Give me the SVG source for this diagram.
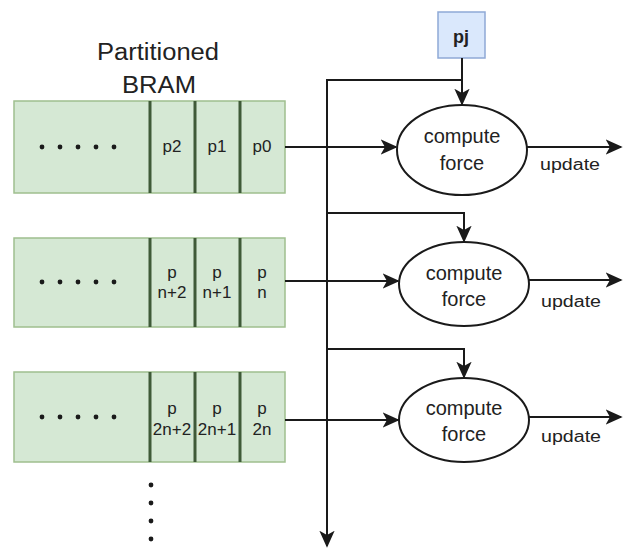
<svg xmlns="http://www.w3.org/2000/svg" width="626" height="548" viewBox="0 0 626 548">
  <style>
    .bram { fill: #d5e8d4; stroke: #9fbf8e; stroke-width: 1.5; }
    .div { stroke: #3f5a38; stroke-width: 3; }
    .txt { font-family: "Liberation Sans", Arial, sans-serif; fill: #222; text-anchor: middle; }
    .cell { font-size: 17px; }
    .cf { font-size: 20px; }
    .upd { font-size: 16px; }
    .node { fill: #ffffff; stroke: #1a1a1a; stroke-width: 2; }
    .wire { fill: none; stroke: #1a1a1a; stroke-width: 2; }
    .dot { fill: #1a1a1a; }
  </style>
  <defs>
    <marker id="arrow" viewBox="0 0 10 10" refX="9" refY="5" markerWidth="8.5" markerHeight="8.5" markerUnits="strokeWidth" orient="auto">
      <path d="M0,0.5 L10,5 L0,9.5 L2.5,5 Z" fill="#1a1a1a"/>
    </marker>
  </defs>

  <rect width="626" height="548" fill="#ffffff"/>

  <!-- title -->
  <g id="title">
    <text class="txt" x="158" y="60" font-size="23" textLength="122" lengthAdjust="spacingAndGlyphs">Partitioned</text>
    <text class="txt" x="159" y="93" font-size="23" textLength="74" lengthAdjust="spacingAndGlyphs">BRAM</text>
  </g>

  <!-- BRAM partition 0 -->
  <g id="bram0">
    <rect class="bram" x="14" y="101" width="271" height="92"/>
    <line class="div" x1="150" y1="101" x2="150" y2="193"/>
    <line class="div" x1="195" y1="101" x2="195" y2="193"/>
    <line class="div" x1="240" y1="101" x2="240" y2="193"/>
    <g class="dot">
      <circle cx="42" cy="147" r="2.4"/><circle cx="60" cy="147" r="2.4"/><circle cx="78" cy="147" r="2.4"/><circle cx="96" cy="147" r="2.4"/><circle cx="114" cy="147" r="2.4"/>
    </g>
    <text class="txt cell" x="172" y="152">p2</text>
    <text class="txt cell" x="217" y="152">p1</text>
    <text class="txt cell" x="262" y="152">p0</text>
  </g>

  <!-- BRAM partition 1 -->
  <g id="bram1">
    <rect class="bram" x="14" y="238" width="271" height="89"/>
    <line class="div" x1="150" y1="238" x2="150" y2="327"/>
    <line class="div" x1="195" y1="238" x2="195" y2="327"/>
    <line class="div" x1="240" y1="238" x2="240" y2="327"/>
    <g class="dot">
      <circle cx="42" cy="282" r="2.4"/><circle cx="60" cy="282" r="2.4"/><circle cx="78" cy="282" r="2.4"/><circle cx="96" cy="282" r="2.4"/><circle cx="114" cy="282" r="2.4"/>
    </g>
    <text class="txt cell" x="172" y="278">p</text>
    <text class="txt cell" x="172" y="298">n+2</text>
    <text class="txt cell" x="217" y="278">p</text>
    <text class="txt cell" x="217" y="298">n+1</text>
    <text class="txt cell" x="262" y="278">p</text>
    <text class="txt cell" x="262" y="298">n</text>
  </g>

  <!-- BRAM partition 2 -->
  <g id="bram2">
    <rect class="bram" x="14" y="372" width="271" height="90"/>
    <line class="div" x1="150" y1="372" x2="150" y2="462"/>
    <line class="div" x1="195" y1="372" x2="195" y2="462"/>
    <line class="div" x1="240" y1="372" x2="240" y2="462"/>
    <g class="dot">
      <circle cx="42" cy="417" r="2.4"/><circle cx="60" cy="417" r="2.4"/><circle cx="78" cy="417" r="2.4"/><circle cx="96" cy="417" r="2.4"/><circle cx="114" cy="417" r="2.4"/>
    </g>
    <text class="txt cell" x="172" y="414">p</text>
    <text class="txt cell" x="172" y="435">2n+2</text>
    <text class="txt cell" x="217" y="414">p</text>
    <text class="txt cell" x="217" y="435">2n+1</text>
    <text class="txt cell" x="262" y="414">p</text>
    <text class="txt cell" x="262" y="435">2n</text>
  </g>

  <!-- more partitions below -->
  <g id="more" class="dot">
    <circle cx="151" cy="485" r="2.4"/><circle cx="151" cy="503" r="2.4"/><circle cx="151" cy="521" r="2.4"/><circle cx="151" cy="539" r="2.4"/>
  </g>

  <!-- pj input -->
  <g id="pj">
    <rect x="438" y="12" width="47" height="46" fill="#dae8fc" stroke="#8fa9d6" stroke-width="1.5"/>
    <text class="txt" x="461" y="43" font-size="18" font-weight="bold" fill="#333">pj</text>
  </g>

  <!-- compute units -->
  <g id="compute0">
    <ellipse class="node" cx="462" cy="150" rx="65" ry="45"/>
    <text class="txt cf" x="462" y="143">compute</text>
    <text class="txt cf" x="462" y="170">force</text>
  </g>
  <g id="compute1">
    <ellipse class="node" cx="464" cy="284" rx="65" ry="42"/>
    <text class="txt cf" x="464" y="280">compute</text>
    <text class="txt cf" x="464" y="306">force</text>
  </g>
  <g id="compute2">
    <ellipse class="node" cx="464" cy="420" rx="65" ry="42"/>
    <text class="txt cf" x="464" y="415">compute</text>
    <text class="txt cf" x="464" y="441">force</text>
  </g>

  <!-- connectors -->
  <g id="connectors">
    <!-- pj broadcast bus -->
    <path class="wire" d="M462,58 V104" marker-end="url(#arrow)"/>
    <path class="wire" d="M462,80 H327 V546" marker-end="url(#arrow)"/>
    <path class="wire" d="M327,213 H464 V241" marker-end="url(#arrow)"/>
    <path class="wire" d="M327,349 H464 V377" marker-end="url(#arrow)"/>
    <!-- BRAM outputs -->
    <path class="wire" d="M285,147 H396" marker-end="url(#arrow)"/>
    <path class="wire" d="M285,281 H398" marker-end="url(#arrow)"/>
    <path class="wire" d="M285,420 H398" marker-end="url(#arrow)"/>
    <!-- update outputs -->
    <path class="wire" d="M527,147 H621" marker-end="url(#arrow)"/>
    <path class="wire" d="M529,280 H621" marker-end="url(#arrow)"/>
    <path class="wire" d="M529,417 H621" marker-end="url(#arrow)"/>
    <text class="txt upd" x="570" y="170" textLength="60" lengthAdjust="spacingAndGlyphs">update</text>
    <text class="txt upd" x="571" y="307" textLength="60" lengthAdjust="spacingAndGlyphs">update</text>
    <text class="txt upd" x="571" y="442" textLength="60" lengthAdjust="spacingAndGlyphs">update</text>
  </g>
</svg>
